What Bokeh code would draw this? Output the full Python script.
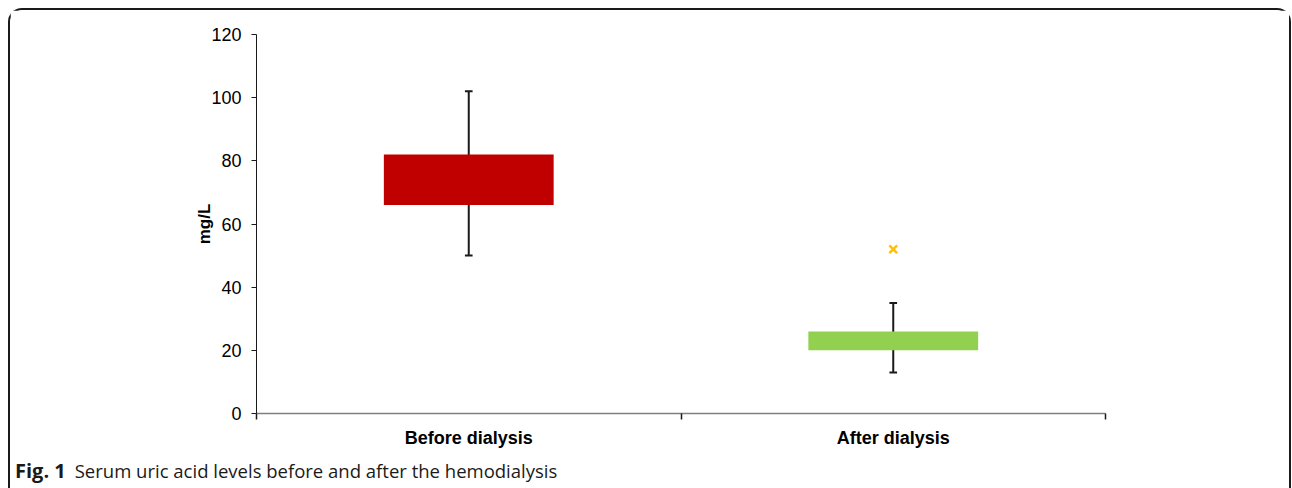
from bokeh.plotting import figure
from bokeh.models import Range1d, FixedTicker, Div
from bokeh.layouts import column
from bokeh.embed import file_html
from bokeh.resources import INLINE

# ---- data ----
categories = ["Before dialysis", "After dialysis"]
q1 = [66, 20]
q3 = [82, 26]
whisker_low = [50, 13]
whisker_high = [102, 35]
box_colors = ["#C00000", "#92D050"]
outlier_category = ["After dialysis"]
outlier_values = [52]
y_ticks = [0, 20, 40, 60, 80, 100, 120]
caption_bold = "Fig. 1"
caption_text = "Serum uric acid levels before and after the hemodialysis"

xc = [i + 0.5 for i in range(len(categories))]
ox = [categories.index(c) + 0.5 for c in outlier_category]

W = 1279
p = figure(width=W, height=445, output_backend="svg", toolbar_location=None,
           x_range=Range1d(0, len(categories)), y_range=Range1d(0, 120),
           min_border_left=246, min_border_right=184, min_border_top=24, min_border_bottom=42)
p.outline_line_color = None
p.grid.visible = False
p.background_fill_color = "white"
p.border_fill_color = "white"

# whiskers (drawn under boxes)
cap = 0.009
p.segment(x0=xc, y0=whisker_low, x1=xc, y1=whisker_high, line_color="#1a1a1a", line_width=2)
p.segment(x0=[x - cap for x in xc], y0=whisker_low, x1=[x + cap for x in xc], y1=whisker_low,
          line_color="#1a1a1a", line_width=2)
p.segment(x0=[x - cap for x in xc], y0=whisker_high, x1=[x + cap for x in xc], y1=whisker_high,
          line_color="#1a1a1a", line_width=2)

# boxes
p.vbar(x=xc, width=0.4, bottom=q1, top=q3, fill_color=box_colors, line_color=None)

# outlier
p.scatter(x=ox, y=outlier_values, marker="x", size=11, line_color="#FFC000", line_width=2.5)

# y axis
ya = p.yaxis[0]
ya.ticker = FixedTicker(ticks=y_ticks)
ya.minor_tick_line_color = None
ya.major_tick_in = 0
ya.major_tick_out = 5
ya.axis_line_color = "#1a1a1a"
ya.major_tick_line_color = "#1a1a1a"
ya.major_label_text_font = "Liberation Sans"
ya.major_label_text_font_size = "18px"
ya.major_label_text_color = "black"
ya.major_label_standoff = 10
ya.axis_label = "mg/L"
ya.axis_label_text_font = "Liberation Sans"
ya.axis_label_text_font_style = "bold"
ya.axis_label_text_font_size = "17px"
ya.axis_label_text_color = "black"
ya.axis_label_standoff = -6

# x axis: boundary ticks as minor ticks, labels at centres
xa = p.xaxis[0]
xa.ticker = FixedTicker(ticks=xc, minor_ticks=list(range(len(categories) + 1)))
xa.major_label_overrides = {x: c for x, c in zip(xc, categories)}
xa.major_tick_line_color = None
xa.major_tick_in = 0
xa.major_tick_out = 0
xa.minor_tick_in = 0
xa.minor_tick_out = 6
xa.minor_tick_line_color = "#1a1a1a"
xa.minor_tick_line_width = 1.5
xa.axis_line_color = "#7f7f7f"
xa.axis_line_width = 1.5
xa.major_label_text_font = "Liberation Sans"
xa.major_label_text_font_style = "bold"
xa.major_label_text_font_size = "18px"
xa.major_label_text_color = "black"
xa.major_label_standoff = 8

cap_div = Div(
    text=(f'<span style="font-weight:bold;font-size:20px;">{caption_bold}</span>'
          f'<span style="margin-left:9px;">{caption_text}</span>'),
    width=W, height=33,
    styles={"font-family": "Open Sans", "font-size": "18.5px", "color": "#1a1a1a",
            "line-height": "22px", "padding-left": "0px", "white-space": "nowrap"})

layout = column(p, cap_div, width=W, sizing_mode="fixed",
                styles={"margin-left": "8px", "margin-top": "8px",
                        "width": f"{W}px", "box-sizing": "content-box",
                        "border-top": "2px solid #1a1a1a", "border-left": "2px solid #1a1a1a",
                        "border-right": "2px solid #1a1a1a",
                        "border-top-left-radius": "14px", "border-top-right-radius": "14px"})

open("out.html", "w").write(file_html(layout, INLINE))
